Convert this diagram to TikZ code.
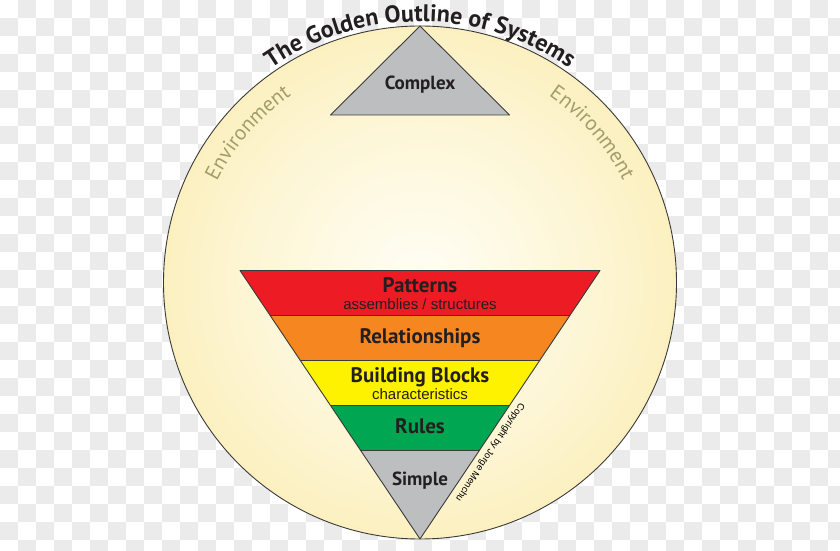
\documentclass[tikz,border=0pt]{standalone}
\usepackage{fontspec}
\setmainfont{Liberation Sans}
\newfontfamily\hfont{PT Sans}
\usetikzlibrary{calc,decorations.text}
\definecolor{chk}{HTML}{EBEBEB}
\definecolor{txt}{HTML}{231F20}
\definecolor{envc}{HTML}{A39C6B}
\definecolor{edge}{HTML}{3A3A3A}
\definecolor{lred}{HTML}{ED1C24}
\definecolor{lorange}{HTML}{F6861F}
\definecolor{lyellow}{HTML}{FFF200}
\definecolor{lgreen}{HTML}{00A651}
\definecolor{lgray}{HTML}{BCBEC0}
\definecolor{glowin}{HTML}{FFFEF6}
\definecolor{glowmid}{HTML}{FDF5D2}
\definecolor{glowout}{HTML}{F6DF80}
\pgfdeclareradialshading{glow}{\pgfpoint{0bp}{0bp}}{color(0bp)=(glowin); color(18bp)=(glowmid); color(50bp)=(glowout)}
\begin{document}
\begin{tikzpicture}[x=1pt,y=1pt,
  layer/.style={draw=edge,line width=0.9pt,line join=round},
  lab/.style={font=\hfont\bfseries\fontsize{21}{22}\selectfont,text=txt,inner sep=0pt,anchor=base},
  labs/.style={font=\hfont\bfseries\fontsize{19}{20}\selectfont,text=txt,inner sep=0pt,anchor=base},
  sub/.style={font=\fontsize{15}{16}\selectfont,text=txt,inner sep=0pt,anchor=base}]
\useasboundingbox (0,0) rectangle (840,551);
% checkerboard background
\fill[white] (0,0) rectangle (840,551);
\foreach \i in {0,...,46}{
  \foreach \j in {0,...,30}{
    \pgfmathtruncatemacro\chkp{mod(\i+\j,2)}
    \ifnum\chkp=1
      \fill[chk] (18*\i,551-18*\j-18) rectangle (18*\i+18,551-18*\j);
    \fi
  }
}
\coordinate (C) at (420,268.5);
% circle
\path[shading=glow] (C) circle[radius=256.5];
\draw[edge,line width=0.9pt] (C) circle[radius=256.5];
% title
\path[decorate,decoration={text along path,text align=center,text color=txt,
  text={|\hfont\bfseries\fontsize{24}{24}\selectfont|The Golden Outline of Systems}}]
  ($(C)+(136:261)$) arc[start angle=136,end angle=44,radius=261];
% environment labels
\path[decorate,decoration={text along path,text align=center,text color=envc,
  text={|\hfont\fontsize{21}{21}\selectfont|Environment}}]
  ($(C)+(164:227)$) arc[start angle=164,end angle=114,radius=227];
\path[decorate,decoration={text along path,text align=center,text color=envc,
  text={|\hfont\fontsize{21}{21}\selectfont|Environment}}]
  ($(C)+(66:227)$) arc[start angle=66,end angle=16,radius=227];
% complex triangle
\coordinate (cA) at (420,525);
\coordinate (cL) at (330.5,436);
\coordinate (cR) at (509.5,436);
\filldraw[layer,fill=lgray] (cA) -- (cL) -- (cR) -- cycle;
\node[labs] (complex) at (420,461.7) {Complex};
% inverted triangle
\coordinate (TL) at (240,280.5);
\coordinate (TR) at (600,280.5);
\coordinate (A) at (420,12);
\foreach \k in {1,2,3,4}{
  \coordinate (L\k) at ($(TL)!{0.1676*\k}!(A)$);
  \coordinate (R\k) at ($(TR)!{0.1676*\k}!(A)$);
}
\filldraw[layer,fill=lred] (TL) -- (TR) -- (R1) -- (L1) -- cycle;
\filldraw[layer,fill=lorange] (L1) -- (R1) -- (R2) -- (L2) -- cycle;
\filldraw[layer,fill=lyellow] (L2) -- (R2) -- (R3) -- (L3) -- cycle;
\filldraw[layer,fill=lgreen] (L3) -- (R3) -- (R4) -- (L4) -- cycle;
\filldraw[layer,fill=lgray] (L4) -- (R4) -- (A) -- cycle;
\draw[edge,line width=1.6pt] (TL) -- (TR);
\node[lab] (patterns) at (420,258.7) {Patterns};
\node[sub] (assem) at (420,241) {assemblies / structures};
\node[lab] (rel) at (420,207.7) {Relationships};
\node[lab] (bb) at (420,168.3) {Building Blocks};
\node[sub] (char) at (420,151) {characteristics};
\node[lab] (rules) at (420,117.7) {Rules};
\node[labs] (simple) at (420,65) {Simple};
\node[font=\fontsize{9.5}{10}\selectfont,text=black,inner sep=0pt,rotate=236.3] (copy) at (490,99) {Copyright by Jorge Menchu};
\end{tikzpicture}
\end{document}
